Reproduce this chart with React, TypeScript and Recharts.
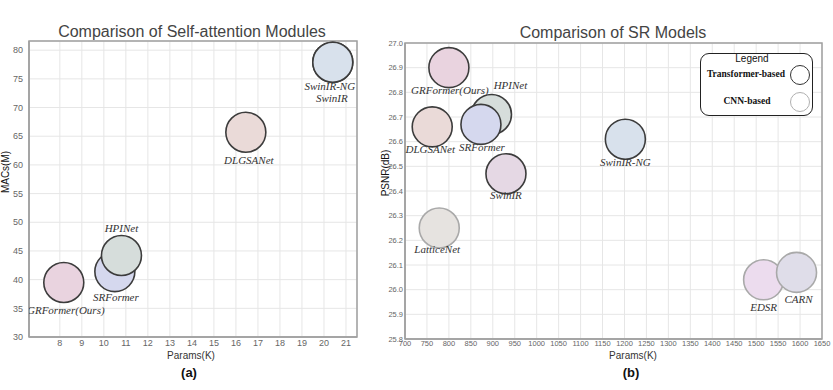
import {
  CartesianGrid,
  ReferenceArea,
  Scatter,
  ScatterChart,
  XAxis,
  YAxis,
} from "recharts";

// (a) self-attention modules: params (K) vs MACs (M)
const attnModels = ["GRFormer(Ours)", "SRFormer", "HPINet", "DLGSANet", "SwinIR", "SwinIR-NG"];
const attnParams = [8.18, 10.5, 10.8, 16.45, 20.4, 20.4];
const attnMacs = [39.5, 41.4, 44.2, 65.7, 77.9, 77.9];

// (b) SR models: params (K) vs PSNR (dB)
const srModels = ["GRFormer(Ours)", "DLGSANet", "HPINet", "SRFormer", "SwinIR-NG", "SwinIR", "LatticeNet", "EDSR", "CARN"];
const srParams = [800, 762, 897, 873, 1202, 930, 778, 1517, 1592];
const srPsnr = [26.9, 26.66, 26.71, 26.67, 26.61, 26.47, 26.25, 26.04, 26.07];
const srKinds = ["Transformer", "Transformer", "Transformer", "Transformer", "Transformer", "Transformer", "CNN", "CNN", "CNN"];

const attnXTicks = [8, 9, 10, 11, 12, 13, 14, 15, 16, 17, 18, 19, 20, 21];
const attnYTicks = [30, 35, 40, 45, 50, 55, 60, 65, 70, 75, 80];
const srXTicks = [700, 750, 800, 850, 900, 950, 1000, 1050, 1100, 1150, 1200, 1250, 1300, 1350, 1400, 1450, 1500, 1550, 1600, 1650];
const srYTicks = [25.8, 25.9, 26.0, 26.1, 26.2, 26.3, 26.4, 26.5, 26.6, 26.7, 26.8, 26.9, 27.0];

type Point = { name: string; x: number; y: number; kind: string };

const attnData: Point[] = attnModels.map((name, i) => ({
  name,
  x: attnParams[i],
  y: attnMacs[i],
  kind: "Transformer",
}));
const srData: Point[] = srModels.map((name, i) => ({
  name,
  x: srParams[i],
  y: srPsnr[i],
  kind: srKinds[i],
}));

const fills: Record<string, string> = {
  "GRFormer(Ours)": "#e9d3df",
  SRFormer: "#d5d8ee",
  HPINet: "#d6dddb",
  DLGSANet: "#eadad8",
  "SwinIR-NG": "#d8e1ec",
  SwinIR: "#e5d8e4",
  LatticeNet: "#e6e3e0",
  EDSR: "#ecdcee",
  CARN: "#dfdde9",
};

// label offsets from bubble centre (px)
const attnLabelPos: Record<string, [number, number]> = {
  "GRFormer(Ours)": [2, 29],
  SRFormer: [1, 27],
  HPINet: [0, -26],
  DLGSANet: [3, 29],
  "SwinIR-NG": [-3, 25],
  SwinIR: [-1, 37],
};
const srLabelPos: Record<string, [number, number]> = {
  "GRFormer(Ours)": [1, 24],
  DLGSANet: [-2, 24],
  HPINet: [19, -28],
  SRFormer: [1, 24],
  "SwinIR-NG": [0, 24],
  SwinIR: [0, 23],
  LatticeNet: [-2, 22],
  EDSR: [0, 29],
  CARN: [2, 28],
};

const Bubble = (props: any) => {
  const { cx, cy, payload } = props;
  const cnn = payload.kind === "CNN";
  return (
    <circle
      cx={cx}
      cy={cy}
      r={20}
      fill={fills[payload.name]}
      stroke={cnn ? "#a9a9a9" : "#3c3c3c"}
      strokeWidth={1.6}
    />
  );
};

const makeLabel = (pos: Record<string, [number, number]>) => (props: any) => {
  const { cx, cy, payload } = props;
  const [dx, dy] = pos[payload.name];
  return (
    <text
      x={cx + dx}
      y={cy + dy}
      textAnchor="middle"
      dominantBaseline="middle"
      fontFamily="'Liberation Serif', serif"
      fontStyle="italic"
      fontSize={11}
      fill="#333"
    >
      {payload.name}
    </text>
  );
};

const tickStyle = { fontSize: 9, fill: "#666", fontFamily: "'Liberation Sans', Arial, sans-serif" };
const smallTick = { fontSize: 7.5, fill: "#666", fontFamily: "'Liberation Sans', Arial, sans-serif" };

const textAt = (
  x: number,
  y: number,
  size: number,
  extra: React.CSSProperties = {},
): React.CSSProperties => ({
  position: "absolute",
  left: x,
  top: y,
  transform: "translate(-50%, -50%)",
  fontSize: size,
  lineHeight: 1,
  whiteSpace: "nowrap",
  fontFamily: "'Liberation Sans', Arial, sans-serif",
  ...extra,
});

export default function App() {
  return (
    <div style={{ position: "absolute", left: 0, top: 0, width: 833, height: 390, background: "#fff" }}>
      <div style={{ position: "absolute", left: 0, top: 0 }}>
        <ScatterChart width={380} height={390} margin={{ top: 41, right: 23, bottom: 33, left: 0 }}>
          <CartesianGrid stroke="#e6e6e6" strokeWidth={1} />
          <ReferenceArea x1={6.6} x2={21.5} y1={30} y2={81.6} fill="none" stroke="#a0a0a0" strokeWidth={1.5} ifOverflow="extendDomain" />
          <XAxis
            type="number"
            dataKey="x"
            domain={[6.6, 21.5]}
            ticks={attnXTicks}
            interval={0}
            allowDataOverflow
            height={20}
            tickSize={0}
            tickMargin={3}
            tickLine={false}
            axisLine={{ stroke: "#a0a0a0", strokeWidth: 1.5 }}
            tick={tickStyle}
          />
          <YAxis
            type="number"
            dataKey="y"
            domain={[30, 81.6]}
            ticks={attnYTicks}
            interval={0}
            allowDataOverflow
            width={29}
            tickSize={0}
            tickMargin={6}
            tickLine={false}
            axisLine={{ stroke: "#a0a0a0", strokeWidth: 1.5 }}
            tick={tickStyle}
          />
          <Scatter data={attnData} shape={Bubble} isAnimationActive={false} />
          <Scatter data={attnData} shape={makeLabel(attnLabelPos)} isAnimationActive={false} />
        </ScatterChart>
      </div>

      <div style={{ position: "absolute", left: 380, top: 0 }}>
        <ScatterChart width={453} height={390} margin={{ top: 43, right: 11, bottom: 31, left: 0 }}>
          <CartesianGrid stroke="#e6e6e6" strokeWidth={1} />
          <ReferenceArea x1={700} x2={1650} y1={25.8} y2={27.0} fill="none" stroke="#a0a0a0" strokeWidth={1.5} />
          <XAxis
            type="number"
            dataKey="x"
            domain={[700, 1650]}
            ticks={srXTicks}
            interval={0}
            allowDataOverflow
            height={20}
            tickSize={0}
            tickMargin={2}
            tickLine={false}
            axisLine={{ stroke: "#a0a0a0", strokeWidth: 1.5 }}
            tick={smallTick}
          />
          <YAxis
            type="number"
            dataKey="y"
            domain={[25.8, 27.0]}
            ticks={srYTicks}
            interval={0}
            allowDataOverflow
            width={25}
            tickSize={0}
            tickMargin={2}
            tickLine={false}
            tickFormatter={(v: number) => v.toFixed(1)}
            axisLine={{ stroke: "#a0a0a0", strokeWidth: 1.5 }}
            tick={smallTick}
          />
          <Scatter data={srData} shape={Bubble} isAnimationActive={false} />
          <Scatter data={srData} shape={makeLabel(srLabelPos)} isAnimationActive={false} />
        </ScatterChart>
      </div>

      {/* titles and axis names */}
      <div style={textAt(192, 32, 16, { color: "#444" })}>Comparison of Self-attention Modules</div>
      <div style={textAt(613, 33, 16, { color: "#444" })}>Comparison of SR Models</div>
      <div style={textAt(191, 356, 10, { color: "#333" })}>Params(K)</div>
      <div style={textAt(633, 356, 10, { color: "#333" })}>Params(K)</div>
      <div style={textAt(189, 372, 13, { fontWeight: "bold", color: "#111" })}>(a)</div>
      <div style={textAt(631, 372, 13, { fontWeight: "bold", color: "#111" })}>(b)</div>
      <div style={textAt(6, 172, 10, { transform: "translate(-50%, -50%) rotate(-90deg)", color: "#111" })}>MACs(M)</div>
      <div style={textAt(386, 173, 10, { transform: "translate(-50%, -50%) rotate(-90deg)", color: "#111" })}>PSNR(dB)</div>

      {/* legend box */}
      <div
        style={{
          position: "absolute",
          left: 700,
          top: 53,
          width: 111,
          height: 61,
          border: "1.5px solid #222",
          borderRadius: 9,
          background: "#fff",
        }}
      >
        <div style={textAt(51, 5, 10, { color: "#111" })}>Legend</div>
        <div style={textAt(45, 21, 9.5, { fontFamily: "'Liberation Serif', serif", fontWeight: "bold", color: "#111" })}>
          Transformer-based
        </div>
        <div style={textAt(46, 48, 9.5, { fontFamily: "'Liberation Serif', serif", fontWeight: "bold", color: "#111" })}>
          CNN-based
        </div>
        <div
          style={{
            position: "absolute",
            left: 89,
            top: 11,
            width: 18,
            height: 18,
            borderRadius: "50%",
            border: "1.5px solid #333",
          }}
        />
        <div
          style={{
            position: "absolute",
            left: 89,
            top: 38,
            width: 18,
            height: 18,
            borderRadius: "50%",
            border: "1.5px solid #b0b0b0",
          }}
        />
      </div>
    </div>
  );
}
